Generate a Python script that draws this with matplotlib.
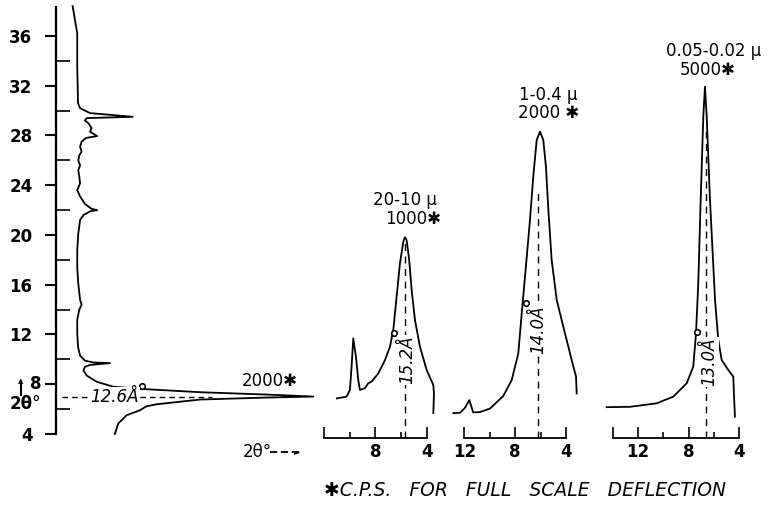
import matplotlib.pyplot as plt
from matplotlib.ticker import FixedLocator, NullLocator

plt.rcParams['font.family'] = ['DejaVu Sans']

# whole clay sample, 2θ runs up the page
left_2theta = [38.4, 36.2, 33.5, 30.6, 30.2, 29.8, 29.5, 29.4, 29.2, 29.0, 28.6, 28.3,
               27.95, 27.8, 27.5, 27.1, 26.7, 26.4, 26.0, 25.6, 25.2, 24.7, 24.15, 23.6,
               23.1, 22.5, 22.1, 22.0, 21.9, 21.6, 21.2, 20.7, 20.1, 18.8, 17.4, 16.1,
               14.8, 14.4, 14.0, 13.2, 12.1, 11.0, 10.3, 9.9, 9.75, 9.7, 9.55, 9.4,
               9.1, 8.7, 8.2, 7.8, 7.63, 7.36, 7.17, 7.01, 6.93, 6.77, 6.39, 6.23,
               5.91, 5.51, 4.84, 4.0]
left_int = [6.5, 8.3, 8.3, 8.6, 9.4, 13.3, 30.0, 12.0, 11.3, 12.6, 13.9, 13.3,
            16.1, 11.7, 10.0, 9.4, 10.0, 9.1, 8.7, 9.4, 8.7, 9.1, 9.4, 8.3,
            9.4, 11.3, 13.9, 16.1, 13.3, 10.7, 9.4, 9.1, 8.7, 8.3, 8.3, 8.7,
            9.4, 10.0, 9.1, 8.3, 8.3, 8.6, 9.4, 11.3, 14.6, 21.1, 13.3, 11.3,
            10.7, 12.0, 15.9, 22.4, 32.8, 56.3, 82.3, 100.5, 82.3, 56.3, 39.3, 35.4,
            32.8, 27.6, 24.3, 23.0]
left_ticks = [4, 8, 12, 16, 20, 24, 28, 32, 36]
left_labels = ['4', '', '12', '16', '20', '24', '28', '32', '36']

# size fractions, 2θ runs right to left
frac_a_2theta = [11.0, 10.24, 9.98, 9.85, 9.72, 9.51, 9.33, 9.2, 8.81, 8.55, 8.29, 7.77,
                 7.25, 6.86, 6.6, 6.34, 6.08, 5.82, 5.69, 5.56, 5.36, 5.17, 4.91, 4.52,
                 4.0, 3.48, 3.43, 3.48]
frac_a_int = [11.2, 11.7, 13.6, 20.2, 28.3, 23.1, 16.4, 13.6, 14.1, 15.5, 16.0, 18.3,
              22.1, 25.9, 30.7, 40.2, 49.7, 55.8, 57.1, 56.3, 50.6, 42.1, 33.5, 25.9,
              19.3, 15.0, 12.6, 7.0]
frac_b_2theta = [12.88, 12.35, 11.96, 11.62, 11.31, 10.78, 9.99, 8.94, 8.28, 7.76, 7.49,
                 7.23, 6.84, 6.58, 6.31, 6.05, 5.79, 5.58, 5.39, 5.13, 4.73, 4.08, 3.55,
                 3.21, 3.16]
frac_b_int = [7.0, 7.1, 8.5, 10.7, 7.2, 7.3, 8.3, 11.9, 16.4, 24.0, 35.4, 45.9, 62.0,
              74.4, 84.8, 87.2, 84.8, 77.2, 64.9, 50.6, 39.2, 29.7, 22.1, 17.4, 12.6]
frac_c_2theta = [14.5, 12.65, 10.53, 9.21, 8.15, 7.63, 7.41, 7.23, 7.04, 6.83, 6.7, 6.56,
                 6.3, 5.9, 5.64, 5.37, 4.85, 4.45, 4.4, 4.32]
frac_c_int = [8.7, 8.8, 9.8, 11.7, 15.5, 20.2, 29.7, 44.0, 67.7, 91.5, 100.0, 91.5,
              67.7, 39.2, 27.8, 22.1, 19.3, 17.4, 12.6, 6.0]

frac_names = ['20-10 μ', '1-0.4 μ', '0.05-0.02 μ']
frac_cps = ['1000✱', '2000 ✱', '5000✱']
frac_spacing = ['15.2Å', '14.0Å', '13.0Å']
frac_peak = [5.69, 6.21, 6.62]
frac_marker = [(6.52, 29.7), (7.15, 38.3), (7.31, 30.2)]

W, H = 780, 505
fig = plt.figure(figsize=(7.8, 5.05), dpi=100)


def box(x0, y0, x1, y1):
    return [x0 / W, 1 - y1 / H, (x1 - x0) / W, (y1 - y0) / H]


LW = 1.3
tick_font = dict(fontsize=12, fontweight='bold')

# ---- left pattern
ax = fig.add_axes(box(56, 7, 326, 434))
ax.plot(left_int, left_2theta, color='black', lw=LW, clip_on=False)
ax.set_xlim(0, 105.5)
ax.set_ylim(4, 38.33)
for s in ['top', 'right', 'bottom']:
    ax.spines[s].set_visible(False)
ax.spines['left'].set_linewidth(1.6)
ax.xaxis.set_major_locator(NullLocator())
ax.yaxis.set_major_locator(FixedLocator(left_ticks))
ax.yaxis.set_minor_locator(FixedLocator(list(range(6, 35, 4))))
ax.set_yticklabels(left_labels, **tick_font)
ax.tick_params(axis='y', which='major', direction='out', length=8, width=1.5, pad=9)
ax.tick_params(axis='y', which='minor', direction='in', length=10, width=1.2)
# the "8" sits closer to the axis, with the 2θ arrow beside it
ax.text(-5.5, 8, '8', fontsize=12, fontweight='bold', ha='right', va='center', clip_on=False)
ax.plot([2.3, 61], [7.0, 7.0], color='black', lw=1, ls=(0, (4, 3)))
ax.text(22.7, 6.97, '12.6Å', fontsize=12, style='italic', ha='center', va='center',
        bbox=dict(facecolor='white', edgecolor='none', pad=1))
ax.plot([33.5], [7.84], marker='o', ms=4, mfc='white', mec='black', mew=1.2)
ax.text(94.5, 8.3, '2000✱', fontsize=12, ha='right', va='center')

fig.text(25 / W, 1 - 404 / H, '2θ°', fontsize=12, fontweight='bold', ha='center', va='center')
fig.add_artist(plt.Line2D([21 / W, 21 / W], [1 - 395 / H, 1 - 381 / H], color='black', lw=1.5))
fig.text(21 / W, 1 - 381 / H, '▲', fontsize=5, ha='center', va='center')
fig.text(243 / W, 1 - 452 / H, '2θ°', fontsize=12, ha='left', va='center')
fig.add_artist(plt.Line2D([270 / W, 300 / W], [1 - 452 / H, 1 - 452 / H], color='black',
                          lw=1.3, ls=(0, (4, 2))))
fig.text(300 / W, 1 - 452 / H, '►', fontsize=6, ha='right', va='center')

# ---- size-fraction panels
panels = [
    (box(300, 0, 445, 437.7), (13.87, 2.57), 12, frac_a_2theta, frac_a_int, ['4', '8', ''],
     (405, 200), (413, 219)),
    (box(450, 0, 590, 437.7), (13.14, 2.11), 12, frac_b_2theta, frac_b_int, ['4', '8', '12'],
     (548, 95), (549, 113)),
    (box(600, 0, 775, 437.7), (15.03, 1.14), 14, frac_c_2theta, frac_c_int, ['4', '8', '12', ''],
     (714, 51), (708, 70)),
]
spacing_pos = [(5.54, 22.1), (6.17, 30.7), (6.38, 21.6)]
dash_top = [55.5, 69.7, 88.5]

for i, (rect, xlim, x_end, tt, inten, labels, name_xy, cps_xy) in enumerate(panels):
    ax = fig.add_axes(rect)
    ax.patch.set_alpha(0)
    ax.plot(tt, inten, color='black', lw=LW)
    ax.set_xlim(*xlim)
    ax.set_ylim(0, 124.7)
    for s in ['top', 'right', 'left']:
        ax.spines[s].set_visible(False)
    ax.spines['bottom'].set_bounds(4, x_end)
    ax.spines['bottom'].set_linewidth(1.3)
    ax.yaxis.set_major_locator(NullLocator())
    majors = [4, 8, 12] + ([14] if x_end == 14 else [])
    ax.xaxis.set_major_locator(FixedLocator(majors))
    ax.xaxis.set_minor_locator(FixedLocator([6, 10]))
    ax.set_xticklabels(labels, **tick_font)
    ax.tick_params(axis='x', which='major', direction='in', length=8, width=1.2, pad=4)
    ax.tick_params(axis='x', which='minor', direction='in', length=4, width=1.2)
    ax.plot([frac_peak[i], frac_peak[i]], [0, dash_top[i]], color='black', lw=1,
            ls=(0, (5, 4)))
    sx, sy = spacing_pos[i]
    ax.text(sx, sy, frac_spacing[i], fontsize=12, style='italic', rotation=90,
            ha='center', va='center',
            bbox=dict(facecolor='white', edgecolor='none', pad=0.5))
    mx, my = frac_marker[i]
    ax.plot([mx], [my], marker='o', ms=4, mfc='white', mec='black', mew=1.2)
    fig.text(name_xy[0] / W, 1 - name_xy[1] / H, frac_names[i], fontsize=12,
             ha='center', va='center')
    fig.text(cps_xy[0] / W, 1 - cps_xy[1] / H, frac_cps[i], fontsize=12,
             ha='center', va='center')

fig.text(525 / W, 1 - 491 / H, '✱C.P.S.   FOR   FULL   SCALE   DEFLECTION', fontsize=13.5,
         style='italic', ha='center', va='center')

fig.savefig('out.png', dpi=100, facecolor='white')
